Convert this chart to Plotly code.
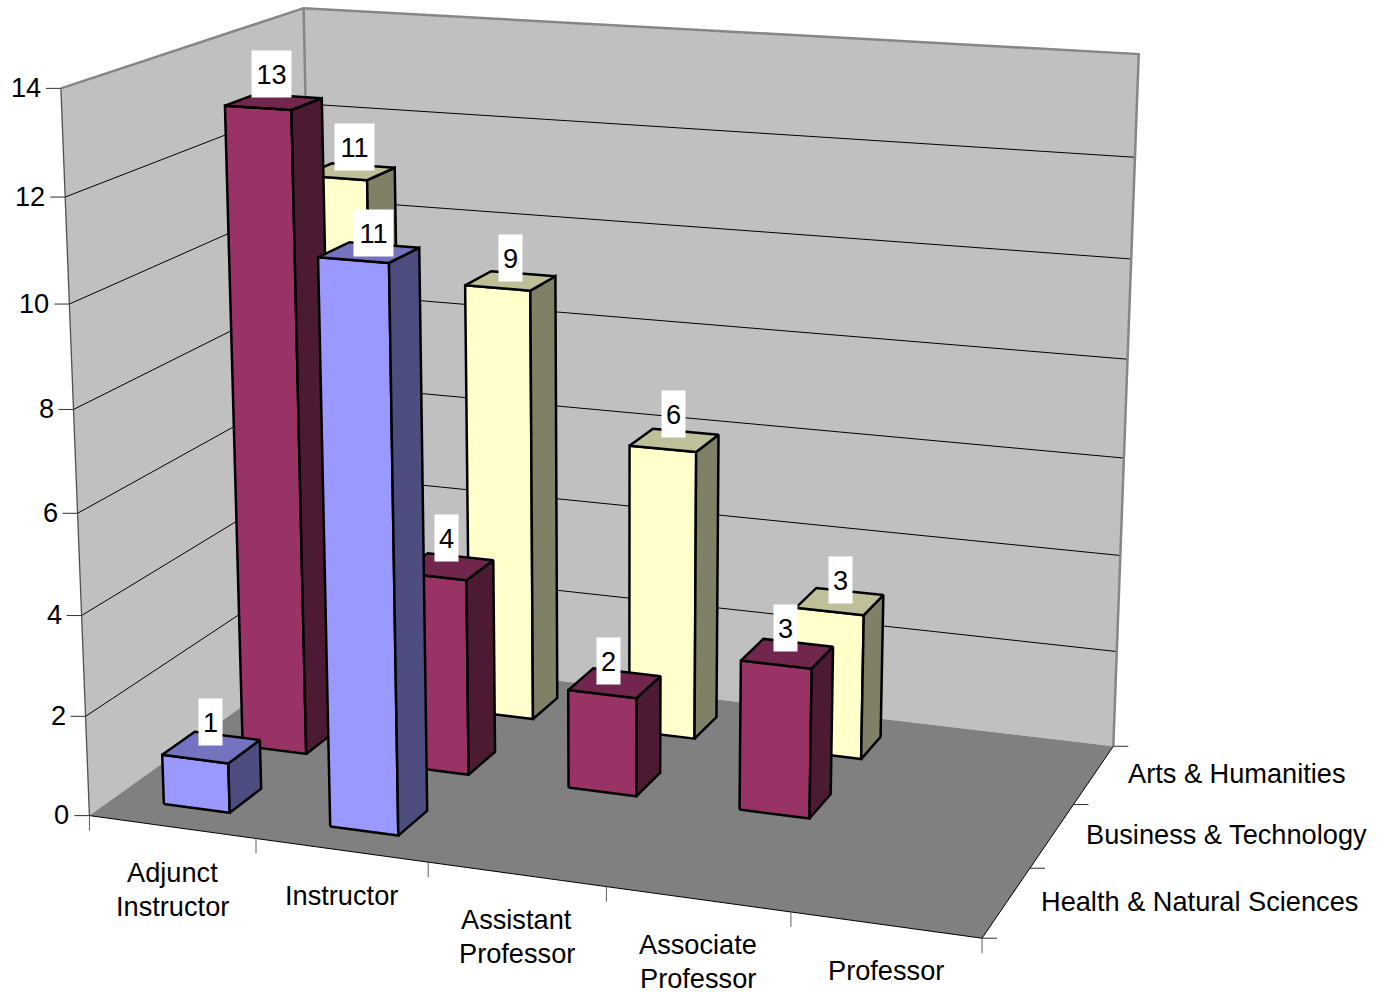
import numpy as np
import plotly.graph_objects as go

# ---- data ----
categories = [["Adjunct", "Instructor"], ["Instructor"], ["Assistant", "Professor"], ["Associate", "Professor"], ["Professor"]]
series_names = ["Health & Natural Sciences", "Business & Technology", "Arts & Humanities"]
health_values = [1, 11, 0, 0, 0]
business_values = [13, 4, 2, 3, 0]
arts_values = [11, 9, 6, 3, 0]
z_ticks = [0, 2, 4, 6, 8, 10, 12, 14]

# ---- colours: (front, top, side) ----
series_colors = [("#9999FF", "#7373BF", "#4D4D80"),
                 ("#993366", "#73264D", "#4D1A33"),
                 ("#FFFFCC", "#BFBF99", "#808066")]
WALL, FLOOR, EDGE = "#C0C0C0", "#808080", "#868686"
FONT = "Liberation Sans"
FS = 27.2
LINE_GAP = 34

# small hand nudges of the data-label boxes: (cat, series) -> (dx, dy)
label_nudge = {(0, 0): (0.5, 0), (1, 0): (6.5, 6), (0, 1): (-0.5, -3), (1, 1): (1, -4), (2, 1): (-4, 3),
               (3, 1): (0, -1), (0, 2): (7, 0), (1, 2): (1.5, 2), (2, 2): (0.5, -1), (3, 2): (2.5, 4)}

# ---- oblique projection, calibrated on the frame: (cat, depth, value) -> pixel ----
calib = [
    ((0, 0, 0), (89.5, 815.7)), ((5, 0, 0), (982, 938)), ((5, 3, 0), (1113.3, 746)),
    ((0, 0, 14), (60.5, 88.5)), ((0, 3, 14), (303.7, 8)), ((5, 3, 14), (1139.3, 54)),
    ((0, 0, 12), (65, 196.7)), ((0, 0, 10), (70, 304)), ((0, 0, 2), (86, 716)),
    ((5, 3, 12), (1134, 157)), ((5, 3, 10), (1131.5, 259)), ((5, 3, 2), (1116, 651)),
    ((1, 0, 0), (255.7, 838.3)), ((2, 0, 0), (428, 862.7)),
    ((5, 1, 0), (1030, 868.3)), ((5, 2, 0), (1074, 804.3)),
    ((.3, .3, 0), (163.3, 804)), ((.7, .3, 0), (230, 812.7)), ((.7, .7, 0), (261, 789)),
    ((.3, .3, 1), (162, 755)), ((.7, .3, 1), (228.3, 763.7)), ((.7, .7, 1), (260, 740)), ((.3, .7, 1), (195, 731.7)),
    ((1.3, .3, 0), (329.7, 826)), ((1.7, .3, 0), (398.3, 835)), ((1.7, .7, 0), (427.3, 810)),
    ((1.3, .3, 11), (318.3, 257.7)), ((1.7, .3, 11), (389.3, 263.3)), ((1.7, .7, 11), (419, 247.3)), ((1.3, .7, 11), (349.3, 242.3)),
    ((3.3, 1.3, 0), (739.3, 809.7)), ((3.3, 1.3, 3), (740.7, 661)), ((3.7, 1.3, 3), (811.7, 669)),
    ((3.7, 1.3, 0), (809.7, 818.7)), ((3.7, 1.7, 3), (833.3, 646.7)), ((3.7, 1.7, 0), (831, 794)),
    ((3.7, 2.3, 3), (863.3, 615.7)), ((3.7, 2.7, 3), (883.3, 595.7)), ((3.7, 2.3, 0), (861.7, 758.7)), ((3.7, 2.7, 0), (880.7, 737.3)),
    ((.3, 1.3, 13), (225, 105.7)),
]


def fit_projection(points):
    w = np.ones(len(points))
    P = None
    for _ in range(8):
        rows = []
        for (X, (px, py)), wi in zip(points, w):
            u, v = px / 1000, py / 1000
            H = [X[0], X[1], X[2], 1.0]
            rows.append([h / wi for h in H] + [0] * 4 + [-u * h / wi for h in H])
            rows.append([0] * 4 + [h / wi for h in H] + [-v * h / wi for h in H])
        P = np.linalg.svd(np.array(rows))[2][-1].reshape(3, 4)
        w = np.array([abs(P[2] @ np.array([*X, 1.0])) for X, _ in points])
    return P


PROJ = fit_projection(calib)


def project(u, v, z):
    a = PROJ @ np.array([u, v, z, 1.0])
    return a[0] / a[2] * 1000, a[1] / a[2] * 1000


fig = go.Figure()


def poly(corners, fill=None, line=None, width=0, close=True):
    pts = [project(*c) for c in corners]
    if close:
        pts.append(pts[0])
    xs, ys = zip(*pts)
    fig.add_trace(go.Scatter(
        x=list(xs), y=list(ys), mode="lines", hoverinfo="skip", showlegend=False,
        fill="toself" if fill else None, fillcolor=fill,
        line=dict(color=line or "rgba(0,0,0,0)", width=width)))


def offset_line(p, dx, dy, color):
    x, y = project(*p)
    fig.add_trace(go.Scatter(x=[x, x + dx], y=[y, y + dy], mode="lines", hoverinfo="skip",
                             showlegend=False, line=dict(color=color, width=1)))


NC, NS, ZMAX = len(categories), len(series_names), z_ticks[-1]

# walls and floor
poly([(0, 0, 0), (0, NS, 0), (0, NS, ZMAX), (0, 0, ZMAX)], fill=WALL)
poly([(0, NS, 0), (NC, NS, 0), (NC, NS, ZMAX), (0, NS, ZMAX)], fill=WALL)
poly([(0, 0, 0), (NC, 0, 0), (NC, NS, 0), (0, NS, 0)], fill=FLOOR)

# gridlines
for z in z_ticks[1:-1]:
    poly([(0, 0, z), (0, NS, z), (NC, NS, z)], line="#000000", width=1, close=False)

# wall edges
poly([(0, 0, 0), (0, 0, ZMAX)], line="#505050", width=1.3, close=False)
poly([(0, 0, ZMAX), (0, NS, ZMAX), (NC, NS, ZMAX), (NC, NS, 0)], line=EDGE, width=2.5, close=False)
poly([(0, NS, ZMAX), (0, NS, 0)], line=EDGE, width=2.5, close=False)
poly([(0, 0, 0), (NC, 0, 0), (NC, NS, 0)], line="#000000", width=1, close=False)

# ticks
for z in z_ticks:
    offset_line((0, 0, z), -15, 0, "#303030")
for c in range(NC + 1):
    offset_line((c, 0, 0), 0, 15, "#606060")
for s in range(NS + 1):
    offset_line((NC, s, 0), 15, 0, "#303030")

# bars, back row first
all_values = [health_values, business_values, arts_values]
LO, HI = 0.3, 0.7
BAR_LW = 2.5
labels = []
for s in reversed(range(NS)):
    front, top, side = series_colors[s]
    for c, val in enumerate(all_values[s]):
        if val == 0:
            continue
        x0, x1, y0, y1 = c + LO, c + HI, s + LO, s + HI
        poly([(x0, y0, 0), (x1, y0, 0), (x1, y0, val), (x0, y0, val)], fill=front, line="#000000", width=BAR_LW)
        poly([(x1, y0, 0), (x1, y1, 0), (x1, y1, val), (x1, y0, val)], fill=side, line="#000000", width=BAR_LW)
        poly([(x0, y0, val), (x1, y0, val), (x1, y1, val), (x0, y1, val)], fill=top, line="#000000", width=BAR_LW)
        labels.append((c, s, val))

ann = []
font = dict(family=FONT, size=FS, color="#000000")
# data labels
for c, s, val in labels:
    a = project(c + LO, s + LO, val)
    b = project(c + HI, s + HI, val)
    dx, dy = label_nudge.get((c, s), (0, 0))
    ann.append(dict(x=(a[0] + b[0]) / 2 - 1.5 + dx, y=(a[1] + b[1]) / 2 - 25 + dy, text=str(val),
                    width=23 if val < 10 else 39, height=46, bgcolor="#FFFFFF",
                    borderpad=0, showarrow=False, font=font, xanchor="center", yanchor="middle"))
# value axis
for z in z_ticks:
    x, y = project(0, 0, z)
    ann.append(dict(x=x - 18, y=y - 1, text=str(z), showarrow=False, font=font, xanchor="right", yanchor="middle"))
# category axis
for c, lines in enumerate(categories):
    x, y = project(c + .5, 0, 0)
    for i, line in enumerate(lines):
        ann.append(dict(x=x, y=y + 45.5 + i * LINE_GAP, text=line, showarrow=False, font=font,
                        xanchor="center", yanchor="middle"))
# series axis
for s, name in enumerate(series_names):
    x, y = project(NC, s + .5, 0)
    ann.append(dict(x=x + 32, y=y - 1, text=name, showarrow=False, font=font, xanchor="left", yanchor="middle"))

fig.update_layout(
    width=1378, height=992, margin=dict(l=0, r=0, t=0, b=0),
    paper_bgcolor="#FFFFFF", plot_bgcolor="#FFFFFF",
    xaxis=dict(range=[0, 1378], visible=False, fixedrange=True),
    yaxis=dict(range=[992, 0], visible=False, fixedrange=True),
    annotations=ann, showlegend=False,
    font=dict(family=FONT),
)
fig.write_html("out.html", config=dict(displayModeBar=False),
               post_script="document.body.style.margin='0';document.documentElement.style.overflow='hidden';")
